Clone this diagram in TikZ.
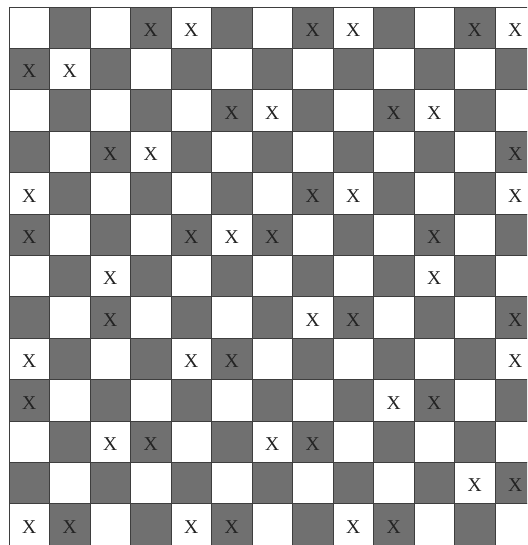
\documentclass[tikz,border=0pt]{standalone}
\usepackage{fontspec}
\setmainfont{Liberation Serif}
\definecolor{darkcell}{RGB}{112,112,112}
\definecolor{gridline}{RGB}{62,62,62}
\definecolor{xink}{RGB}{35,35,35}
\tikzset{
  darksq/.style={fill=darkcell},
  gridstroke/.style={draw=gridline, line width=0.9pt},
  cellx/.style={text=xink, font=\fontsize{19.6}{20}\selectfont, inner sep=0pt, anchor=center}
}
\begin{document}
\begin{tikzpicture}[x=1pt,y=-1pt]
\useasboundingbox (0,0) rectangle (527,545);
\fill[white] (0,0) rectangle (527,545);
\begin{scope}
\clip (0,0) rectangle (527,545);
% dark squares
\foreach \r in {0,...,12}{
  \foreach \c in {0,...,12}{
    \pgfmathtruncatemacro\s{\r+\c}
    \ifodd\s
      \fill[darksq] (9+40.5*\c,7+41.4*\r) rectangle ++(40.5,41.4);
    \fi
  }
}
% grid lines
\foreach \c in {0,...,13}{
  \draw[gridstroke] (9+40.5*\c,7) -- (9+40.5*\c,545);
}
\foreach \r in {0,...,13}{
  \draw[gridstroke] (9,7+41.4*\r) -- (540,7+41.4*\r);
}
% X marks
\foreach \r/\c in {0/3,0/4,0/7,0/8,0/11,0/12,
  1/0,1/1,
  2/5,2/6,2/9,2/10,
  3/2,3/3,3/12,
  4/0,4/7,4/8,4/12,
  5/0,5/4,5/5,5/6,5/10,
  6/2,6/10,
  7/2,7/7,7/8,7/12,
  8/0,8/4,8/5,8/12,
  9/0,9/9,9/10,
  10/2,10/3,10/6,10/7,
  11/11,11/12,
  12/0,12/1,12/4,12/5,12/8,12/9}{
  \node[cellx] (x-\r-\c) at (29.25+40.5*\c,30+41.4*\r) {X};
}
\end{scope}
\end{tikzpicture}
\end{document}
